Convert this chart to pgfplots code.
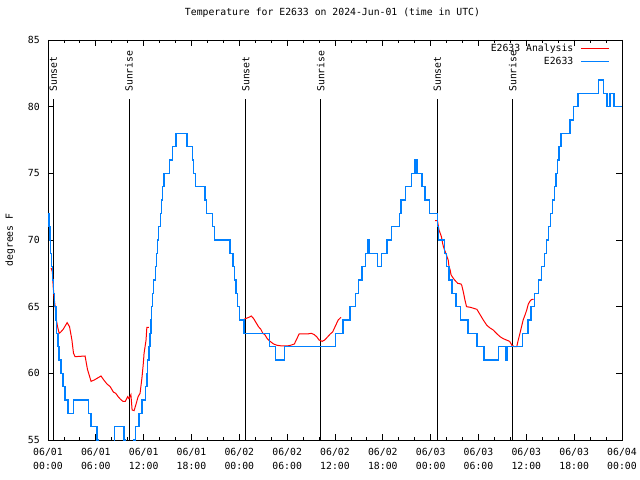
\documentclass[border=0pt]{standalone}
\usepackage{fontspec}
\setmainfont{DejaVu Sans Mono}
\setmonofont{DejaVu Sans Mono}
\usepackage{pgfplots}
\pgfplotsset{compat=1.18}
\definecolor{obsblue}{RGB}{0,128,255}
\newcommand{\gfont}{\fontsize{9.8bp}{14bp}\selectfont}
\begin{document}
\begin{tikzpicture}
\useasboundingbox (-48bp,-40bp) rectangle (592bp,440bp);
\begin{axis}[
  at={(0,0)}, anchor=south west,
  scale only axis, width=574bp, height=400bp,
  xmin=0, xmax=72, ymin=55, ymax=85,
  xtick={0,6,...,72},
  xticklabels={{06/01\\00:00},{06/01\\06:00},{06/01\\12:00},{06/01\\18:00},
               {06/02\\00:00},{06/02\\06:00},{06/02\\12:00},{06/02\\18:00},
               {06/03\\00:00},{06/03\\06:00},{06/03\\12:00},{06/03\\18:00},
               {06/04\\00:00}},
  minor x tick num=2,
  ytick={55,60,...,85},
  tick align=inside,
  major tick length=6bp, minor tick length=3.5bp,
  axis line style={line width=0.9bp},
  every tick/.style={line width=0.8bp, black},
  /pgf/number format/assume math mode=true,
  tick label style={font=\gfont},
  xticklabel style={align=center, inner sep=0pt, yshift=-8bp},
  yticklabel style={inner sep=0pt, xshift=-8bp},
  title={Temperature for E2633 on 2024-Jun-01 (time in UTC)},
  title style={font=\gfont, at={(axis description cs:0.5,1)}, anchor=center, yshift=21bp, xshift=-2.5bp},
  ylabel={degrees F},
  ylabel style={font=\gfont, at={(axis description cs:-0.066,0.5)}, anchor=center},
  legend style={draw=none, fill=none, at={(axis description cs:1,1)}, anchor=north east,
    xshift=-12bp, yshift=-2bp, inner sep=0pt, row sep=0pt, column sep=6bp,
    nodes={font=\gfont, inner sep=1bp, text height=8bp, text depth=3bp}},
  legend plot pos=right,
  legend cell align=right,
  legend image code/.code={\draw[#1] (0bp,0bp) -- (28bp,0bp);},
]
% sunset / sunrise markers
\addplot[black, line width=0.9bp, forget plot] coordinates {(0.67,55) (0.67,80.6)};
\addplot[black, line width=0.9bp, forget plot] coordinates {(10.17,55) (10.17,80.6)};
\addplot[black, line width=0.9bp, forget plot] coordinates {(24.8,55) (24.8,80.6)};
\addplot[black, line width=0.9bp, forget plot] coordinates {(34.2,55) (34.2,80.6)};
\addplot[black, line width=0.9bp, forget plot] coordinates {(48.83,55) (48.83,80.6)};
\addplot[black, line width=0.9bp, forget plot] coordinates {(58.28,55) (58.28,80.6)};
\node[rotate=90, anchor=west, inner sep=0pt, font=\gfont] at (axis cs:0.67,81.1) {Sunset};
\node[rotate=90, anchor=west, inner sep=0pt, font=\gfont] at (axis cs:10.17,81.1) {Sunrise};
\node[rotate=90, anchor=west, inner sep=0pt, font=\gfont] at (axis cs:24.8,81.1) {Sunset};
\node[rotate=90, anchor=west, inner sep=0pt, font=\gfont] at (axis cs:34.2,81.1) {Sunrise};
\node[rotate=90, anchor=west, inner sep=0pt, font=\gfont] at (axis cs:48.83,81.1) {Sunset};
\node[rotate=90, anchor=west, inner sep=0pt, font=\gfont] at (axis cs:58.28,81.1) {Sunrise};

% analysis (red)
\addplot[red, line width=1bp] coordinates {
(0.4,67.9) (0.55,67.6) (0.65,66.5) (0.8,65.5) (0.9,65) (1.05,64) (1.2,63.5) (1.4,63)
(1.6,63.1) (1.9,63.3) (2.4,63.8) (2.7,63.5) (2.85,63) (3.0,62.5) (3.1,62) (3.2,61.5)
(3.4,61.25) (4.65,61.3) (4.8,60.8) (4.95,60.3) (5.1,60) (5.4,59.4) (5.8,59.5) (6.65,59.8)
(7.0,59.5) (7.4,59.2) (7.8,59.0) (8.2,58.6) (8.5,58.5) (8.8,58.25) (9.1,58.05) (9.4,57.9)
(9.7,57.9) (10.0,58.25) (10.15,58.1) (10.4,58.4) (10.55,57.25) (10.8,57.2) (11.05,57.7)
(11.3,58.25) (11.55,58.5) (11.8,59.75) (11.95,60.7) (12.05,61.5) (12.3,62.5) (12.4,63.45)
(12.65,63.45)
};
\addlegendentry{E2633 Analysis}
\addplot[red, line width=1bp, forget plot] coordinates {
(24.45,64.0) (24.75,64.1) (25.2,64.2) (25.5,64.3) (25.8,64.1) (26.1,63.8) (26.4,63.5)
(26.7,63.3) (26.95,63.0) (27.2,62.9) (27.5,62.6) (27.85,62.4) (28.3,62.2) (28.75,62.1)
(29.4,62.05) (30.0,62.05) (30.4,62.1) (30.9,62.2) (31.1,62.45) (31.3,62.7) (31.5,62.95)
(32.5,62.95) (33.05,63.0) (33.4,62.9) (33.7,62.75) (34.0,62.5) (34.4,62.4) (34.7,62.5)
(35.1,62.75) (35.4,62.95) (35.7,63.1) (36.05,63.55) (36.4,64.0) (36.75,64.2)
};
\addplot[red, line width=1bp, forget plot] coordinates {
(48.55,71.45) (48.85,71.45) (49.05,70.75) (49.2,70.5) (49.35,70.25) (49.5,69.75) (49.6,69.5)
(49.75,69.25) (49.9,69) (50.05,68.75) (50.2,68.5) (50.3,68) (50.45,67.75) (50.55,67.4)
(50.7,67.25) (51.0,67) (51.4,66.75) (51.8,66.7) (51.9,66.6) (52.1,66.1) (52.3,65.5)
(52.5,65.0) (53.0,64.95) (53.8,64.8) (54.2,64.4) (54.6,64.0) (55.05,63.6) (55.45,63.4)
(55.85,63.25) (56.25,63) (56.7,62.75) (57.1,62.6) (57.5,62.5) (57.9,62.4) (58.2,62.1)
(58.5,62.0) (58.8,62.0) (58.95,62.4) (59.2,63.0) (59.4,63.5) (59.6,64.0) (59.85,64.4)
(60.05,64.75) (60.25,65.2) (60.5,65.45) (60.7,65.55) (60.9,65.55)
};

% observations (blue), value holds until next time
\addplot[obsblue, line width=1.4bp, const plot] coordinates {
(0,72) (0.12,71) (0.25,70) (0.35,69) (0.45,68) (0.55,67) (0.7,66) (0.85,65) (1.0,64)
(1.1,63) (1.25,62) (1.4,61) (1.65,60) (1.9,59) (2.15,58) (2.5,57) (3.2,58) (5.1,57)
(5.4,56) (6.15,55) (6.35,54) (8.35,56) (9.55,55) (9.75,54) (10.75,55) (11.0,56)
(11.4,57) (11.8,58) (12.2,59) (12.4,60) (12.5,61) (12.65,62) (12.8,63) (12.9,64)
(13.0,65) (13.1,66) (13.25,67) (13.45,68) (13.6,69) (13.75,70) (13.85,71) (14.1,72)
(14.25,73) (14.4,74) (14.55,75) (15.25,76) (15.65,77) (16.05,78) (17.45,77) (18.1,76)
(18.25,75) (18.5,74) (19.7,73) (19.85,72) (20.65,71) (20.85,70) (22.85,69) (23.2,68)
(23.4,67) (23.6,66) (23.8,65) (24.0,64) (24.6,63) (27.8,62) (28.5,61) (29.65,62)
(36.05,63) (37.0,64) (37.9,65) (38.6,66) (38.95,67) (39.4,68) (39.85,69) (40.15,70)
(40.3,69) (41.35,68) (41.8,69) (42.5,70) (43.1,71) (44.1,72) (44.3,73) (44.85,74)
(45.6,75) (46.05,76) (46.3,75) (46.9,74) (47.3,73) (47.85,72) (48.85,71) (48.95,70)
(49.75,69) (50.0,68) (50.3,67) (50.7,66) (51.2,65) (51.75,64) (52.7,63) (53.8,62)
(54.7,61) (56.5,62) (57.35,61) (57.6,62) (59.5,63) (60.2,64) (60.6,65) (61.0,66)
(61.5,67) (61.9,68) (62.3,69) (62.55,70) (62.8,71) (63.05,72) (63.25,73) (63.5,74)
(63.7,75) (63.9,76) (64.1,77) (64.35,78) (65.5,79) (65.95,80) (66.5,81) (69.05,82)
(69.7,81) (70.1,80) (70.5,81) (71.0,80) (72.0,80)
};
\addlegendentry{E2633}
\end{axis}
\end{tikzpicture}
\end{document}
